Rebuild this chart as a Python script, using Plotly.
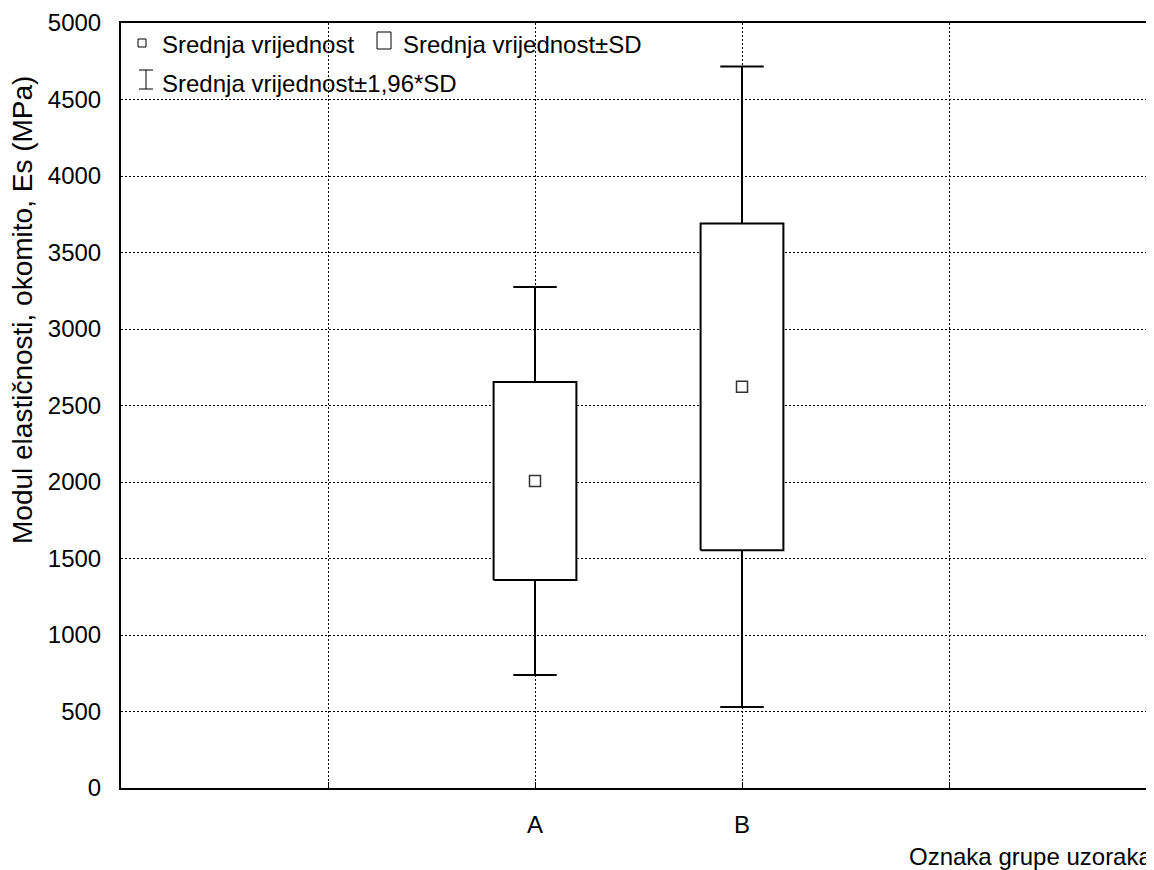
import plotly.graph_objects as go

categories = ["A", "B"]
cat_pos = [2, 3]
means = [2007, 2622]
sds = [647, 1068]
z = 1.96

y_ticks = list(range(0, 5001, 500))

FONT = "Liberation Sans, Arial, sans-serif"
FS = 24

# The page body has an 8px margin; figure coords = window coords - 8
W, H = 1146, 862
L, T = 113, 15
PW, PH = 1033, 765

fig = go.Figure()

box_w = 0.4
cap_w = 0.21

for x, m, s in zip(cat_pos, means, sds):
    lo, hi = m - s, m + s
    wlo, whi = m - z * s, m + z * s
    fig.add_trace(go.Scatter(
        x=[x, x, None, x, x, None, x - cap_w / 2, x + cap_w / 2, None, x - cap_w / 2, x + cap_w / 2],
        y=[hi, whi, None, lo, wlo, None, whi, whi, None, wlo, wlo],
        mode="lines", line=dict(color="black", width=2), showlegend=False, hoverinfo="skip"))
    fig.add_trace(go.Scatter(
        x=[x - box_w / 2, x + box_w / 2, x + box_w / 2, x - box_w / 2, x - box_w / 2],
        y=[lo, lo, hi, hi, lo],
        mode="lines", fill="toself", fillcolor="white",
        line=dict(color="black", width=2), showlegend=False, hoverinfo="skip"))

fig.add_trace(go.Scatter(
    x=cat_pos, y=means, mode="markers",
    marker=dict(symbol="square-open", size=11, color="#333333", line=dict(width=1.5)),
    showlegend=False))


def px(p):  # window x -> paper
    return (p - 121) / PW


def py(p):  # window y -> paper
    return (788 - p) / PH


legend_font = dict(family=FONT, size=FS, color="black")
fig.add_annotation(xref="paper", yref="paper", x=px(160), y=py(44),
                   text="Srednja vrijednost", showarrow=False, xanchor="left", yanchor="middle", font=legend_font)
fig.add_annotation(xref="paper", yref="paper", x=px(401), y=py(44),
                   text="Srednja vrijednost±SD", showarrow=False, xanchor="left", yanchor="middle", font=legend_font)
fig.add_annotation(xref="paper", yref="paper", x=px(160), y=py(83),
                   text="Srednja vrijednost±1,96*SD", showarrow=False, xanchor="left", yanchor="middle", font=legend_font)

fig.add_shape(type="rect", xref="paper", yref="paper",
              x0=px(138), x1=px(146), y0=py(47), y1=py(39),
              line=dict(color="black", width=1), fillcolor="white")
fig.add_shape(type="rect", xref="paper", yref="paper",
              x0=px(377), x1=px(391), y0=py(49), y1=py(32),
              line=dict(color="black", width=1), fillcolor="white")
fig.add_shape(type="line", xref="paper", yref="paper",
              x0=px(146), x1=px(146), y0=py(70), y1=py(89),
              line=dict(color="black", width=1))
fig.add_shape(type="line", xref="paper", yref="paper",
              x0=px(139), x1=px(153), y0=py(70), y1=py(70),
              line=dict(color="black", width=1))
fig.add_shape(type="line", xref="paper", yref="paper",
              x0=px(139), x1=px(153), y0=py(89), y1=py(89),
              line=dict(color="black", width=1))

fig.add_annotation(xref="paper", yref="paper", x=1, y=py(857),
                   text="Oznaka grupe uzoraka", showarrow=False, xanchor="right", yanchor="middle",
                   font=dict(family=FONT, size=FS, color="black"))
fig.add_annotation(xref="paper", yref="paper", x=px(22), y=py(310),
                   text="Modul elastičnosti, okomito, Es (MPa)", showarrow=False, textangle=-90,
                   xanchor="center", yanchor="middle",
                   font=dict(family=FONT, size=28, color="black"))

fig.update_layout(
    width=W, height=H,
    margin=dict(l=L, r=W - L - PW, t=T, b=H - T - PH),
    plot_bgcolor="white", paper_bgcolor="white",
    font=dict(family=FONT, size=FS, color="black"),
    showlegend=False,
    xaxis=dict(range=[0, PW / 207], tickvals=[1, 2, 3, 4], ticktext=["", categories[0], categories[1], ""],
               showgrid=True, gridcolor="black", griddash="2px,2px", gridwidth=1,
               ticks="inside", ticklen=6, tickcolor="black", tickwidth=1,
               showline=True, linecolor="black", linewidth=2, mirror=True,
               zeroline=False, ticklabelstandoff=14, fixedrange=True),
    yaxis=dict(range=[0, 5000], tickvals=y_ticks,
               showgrid=True, gridcolor="black", griddash="2px,2px", gridwidth=1,
               showline=True, linecolor="black", linewidth=2,
               ticks="", ticklabelstandoff=13, zeroline=False, fixedrange=True),
)

fig.write_html("out.html")
